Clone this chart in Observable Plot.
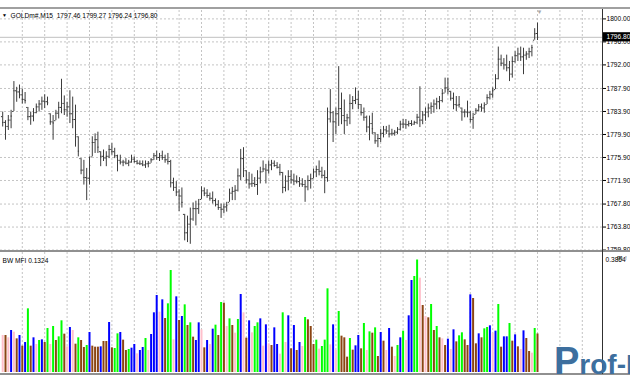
<!DOCTYPE html>
<html><head><meta charset="utf-8">
<script src="https://cdn.jsdelivr.net/npm/d3@7"></script>
<script src="https://cdn.jsdelivr.net/npm/@observablehq/plot@0.6"></script>
<style>
html,body{margin:0;padding:0;background:#fff;}
#wrap{position:relative;width:630px;height:380px;overflow:hidden;font-family:"Liberation Sans",Arial,sans-serif;background:#fff;}
#top{position:absolute;left:0;top:10px;width:630px;height:240px;overflow:hidden;}
#bot{position:absolute;left:0;top:252px;width:630px;height:121px;overflow:hidden;}
.hl{position:absolute;left:0;width:630px;}
#axisline{position:absolute;left:602px;top:9px;width:1px;height:365px;background:#303030;}
#logo{position:absolute;left:554px;top:342px;white-space:nowrap;color:#3d6f9e;font-family:"Liberation Sans",Arial,sans-serif;font-weight:bold;line-height:1;}
</style></head><body>
<div id="wrap">
  <div class="hl" style="top:7px;height:2px;background:#a0a0a0"></div>
  <div id="top"></div>
  <div class="hl" style="top:250px;height:2px;background:#909090"></div>
  <div id="bot"></div>
  <div class="hl" style="top:373px;height:2px;background:#909090"></div>
  <div id="axisline"></div>
  <div id="logo"><span style="font-size:38px">P</span><span style="font-size:28px">rof-FX</span></div>
</div>
<script>
// ---- data ----
const symbol = "GOLDm#";
const timeframe = "M15";
const indicatorName = "BW MFI";
const priceTicks = [1800.00, 1796.00, 1792.00, 1787.90, 1783.90, 1779.90, 1775.90, 1771.90, 1767.80, 1763.80, 1759.80];
const mfiMax = 0.3864;

const high = [1783.8,1782.3,1783.2,1784.1,1789.1,1788.1,1788.5,1787.8,1787.2,1784.6,
1783.8,1784.4,1785.2,1785.8,1786.4,1786.8,1786.4,1783.5,1783.2,1784.1,
1785.5,1789.5,1786.6,1785.5,1787.5,1786.4,1785.0,1779.5,1775.7,1775.4,
1774.0,1776.0,1779.5,1780.0,1780.3,1776.9,1777.2,1776.9,1778.0,1778.3,
1777.5,1776.3,1776.3,1775.4,1775.7,1775.4,1776.3,1776.0,1775.4,1775.3,
1775.3,1775.3,1775.2,1775.7,1776.6,1777.0,1776.6,1777.0,1776.3,1776.6,
1775.4,1772.3,1771.7,1770.3,1770.6,1766.0,1765.7,1767.1,1768.0,1768.3,
1768.6,1770.8,1770.6,1770.3,1769.7,1769.9,1768.7,1768.4,1767.8,1767.8,
1768.1,1770.4,1770.7,1771.0,1773.9,1777.3,1777.6,1773.6,1773.3,1773.0,
1772.4,1773.6,1774.2,1775.3,1774.7,1775.3,1775.4,1775.3,1775.0,1774.7,
1773.3,1772.7,1773.6,1773.6,1773.0,1772.7,1772.4,1772.2,1771.9,1772.7,
1773.0,1773.9,1774.4,1775.3,1774.2,1773.6,1784.5,1787.7,1783.9,1784.5,
1791.7,1787.1,1785.9,1783.4,1786.8,1786.5,1788.0,1787.4,1785.1,1784.5,
1783.1,1783.1,1783.6,1780.2,1779.9,1780.8,1781.3,1781.3,1781.5,1780.8,
1780.6,1781.1,1782.2,1782.5,1782.5,1782.2,1782.3,1782.2,1783.4,1788.2,
1783.9,1784.5,1785.2,1785.4,1785.9,1786.2,1786.5,1787.7,1789.7,1789.7,
1787.4,1787.1,1786.5,1786.5,1784.5,1784.2,1785.7,1783.9,1783.6,1784.4,
1785.1,1785.2,1785.4,1786.8,1787.4,1788.0,1790.3,1795.1,1793.7,1793.1,
1793.7,1792.6,1793.4,1794.3,1794.9,1795.1,1794.9,1794.3,1794.9,1795.4,
1798.3,1799.27];

const low = [1781.2,1778.9,1780.6,1780.9,1783.9,1785.5,1786.1,1785.2,1785.2,1782.3,
1781.5,1782.1,1783.5,1783.8,1784.1,1784.4,1784.9,1781.5,1778.9,1782.3,
1782.6,1783.5,1783.2,1782.9,1781.8,1780.9,1777.7,1776.0,1772.9,1771.1,
1768.4,1771.1,1776.0,1776.6,1776.6,1774.3,1775.2,1774.3,1775.7,1776.3,
1775.7,1773.4,1774.6,1774.3,1774.6,1774.3,1774.9,1774.9,1774.6,1774.5,
1774.3,1774.0,1774.1,1774.9,1775.4,1775.4,1775.2,1775.4,1774.9,1774.6,
1770.6,1770.0,1769.1,1766.5,1767.1,1761.4,1761.1,1760.8,1764.8,1764.0,
1766.0,1768.6,1769.1,1768.8,1768.3,1767.8,1767.3,1766.7,1765.3,1766.1,
1766.4,1768.1,1768.4,1768.4,1769.9,1771.9,1772.4,1771.3,1770.4,1770.7,
1770.7,1769.3,1771.3,1773.3,1771.3,1773.0,1773.6,1774.2,1773.9,1772.7,
1769.6,1769.9,1770.1,1771.3,1771.0,1771.3,1770.7,1770.7,1768.1,1770.1,
1770.4,1772.2,1772.4,1772.7,1772.2,1769.6,1771.6,1781.9,1778.5,1779.9,
1781.3,1781.6,1779.9,1781.3,1781.6,1784.2,1785.1,1784.2,1783.1,1782.2,
1780.2,1778.8,1779.9,1778.2,1777.6,1778.5,1779.3,1779.9,1779.3,1779.6,
1779.6,1779.9,1780.5,1780.9,1780.8,1781.2,1781.3,1781.5,1781.6,1781.1,
1781.6,1782.2,1782.8,1783.4,1783.6,1784.2,1784.2,1785.4,1787.1,1786.8,
1785.7,1784.2,1783.9,1784.5,1782.2,1782.8,1782.8,1781.9,1780.8,1783.4,
1783.8,1783.8,1783.6,1785.1,1785.9,1786.2,1787.7,1789.4,1791.7,1791.1,
1790.8,1789.1,1789.7,1792.3,1792.6,1792.6,1790.3,1792.8,1793.1,1793.4,
1796.3,1796.24];

const open = [1783.0,1782.0,1781.3,1782.4,1783.9,1787.5,1787.3,1786.8,1786.0,1784.6,
1783.0,1783.1,1783.7,1784.7,1785.2,1785.7,1785.6,1783.5,1782.1,1782.3,
1783.6,1784.6,1785.3,1784.2,1784.7,1783.5,1782.5,1779.5,1775.7,1773.7,
1772.4,1772.3,1776.0,1778.5,1779.0,1776.9,1776.1,1775.8,1776.1,1777.3,
1776.9,1776.2,1775.4,1775.1,1775.1,1774.9,1775.1,1775.6,1775.2,1774.9,
1774.8,1774.6,1774.8,1774.9,1775.5,1776.2,1775.9,1776.2,1775.9,1775.5,
1775.2,1771.5,1770.7,1769.9,1769.2,1766.0,1762.8,1764.3,1765.2,1767.0,
1767.0,1768.6,1770.1,1769.7,1769.3,1768.8,1768.4,1767.7,1767.2,1766.9,
1767.3,1768.1,1769.7,1770.0,1770.2,1772.7,1775.7,1773.6,1772.0,1771.3,
1771.4,1771.2,1772.3,1773.4,1773.9,1773.7,1774.6,1774.9,1774.5,1774.2,
1773.3,1770.7,1771.8,1772.6,1772.0,1771.8,1771.7,1771.3,1771.2,1770.8,
1771.9,1772.2,1773.4,1773.8,1773.5,1772.8,1772.4,1782.6,1783.7,1782.1,
1783.5,1784.4,1783.2,1782.3,1782.8,1785.3,1785.8,1786.0,1785.1,1783.7,
1782.9,1781.2,1781.8,1780.2,1778.8,1779.2,1780.1,1780.7,1780.5,1780.0,
1780.1,1780.3,1780.8,1781.7,1781.7,1781.6,1781.8,1781.7,1782.0,1782.9,
1782.4,1783.3,1783.8,1784.5,1784.8,1785.2,1785.6,1785.8,1787.1,1788.0,
1787.4,1786.2,1785.1,1785.0,1784.5,1783.8,1783.8,1783.7,1782.5,1783.4,
1784.1,1784.7,1784.5,1785.1,1786.3,1786.9,1787.7,1789.6,1793.0,1792.3,
1792.0,1791.5,1790.4,1792.6,1793.6,1793.9,1793.4,1793.7,1793.9,1794.3,
1796.3,1797.46];

const close = [1782.0,1781.3,1782.4,1783.1,1787.5,1787.3,1786.8,1786.0,1785.8,1783.0,
1783.1,1783.7,1784.7,1785.2,1785.7,1785.6,1785.4,1782.1,1781.9,1783.6,
1784.6,1785.3,1784.2,1784.7,1783.5,1782.5,1779.9,1777.0,1773.7,1772.4,
1772.3,1774.5,1778.5,1779.0,1777.7,1776.1,1775.8,1776.1,1777.3,1776.9,
1776.2,1775.4,1775.1,1775.1,1774.9,1775.1,1775.6,1775.2,1774.9,1774.8,
1774.6,1774.8,1774.9,1775.5,1776.2,1775.9,1776.2,1775.9,1775.5,1775.2,
1771.5,1770.7,1769.9,1769.2,1768.1,1762.8,1764.3,1765.2,1767.0,1767.0,
1767.8,1770.1,1769.7,1769.3,1768.8,1768.4,1767.7,1767.2,1766.9,1767.3,
1767.6,1769.7,1770.0,1770.2,1772.7,1775.7,1774.0,1772.0,1771.3,1771.4,
1771.2,1772.3,1773.4,1773.9,1773.7,1774.6,1774.9,1774.5,1774.2,1773.3,
1770.7,1771.8,1772.6,1772.0,1771.8,1771.7,1771.3,1771.2,1770.8,1771.9,
1772.2,1773.4,1773.8,1773.5,1772.8,1772.4,1782.6,1783.7,1782.1,1783.5,
1784.4,1783.2,1782.3,1782.8,1785.3,1785.8,1786.0,1785.1,1783.7,1782.9,
1781.2,1781.8,1780.9,1778.8,1779.2,1780.1,1780.7,1780.5,1780.0,1780.1,
1780.3,1780.8,1781.7,1781.7,1781.6,1781.8,1781.7,1782.0,1782.9,1782.4,
1783.3,1783.8,1784.5,1784.8,1785.2,1785.6,1785.8,1787.0,1788.0,1787.7,
1786.2,1785.1,1785.0,1785.1,1783.8,1783.8,1783.7,1782.5,1782.8,1784.1,
1784.7,1784.5,1784.9,1786.3,1786.9,1787.5,1789.6,1793.0,1792.3,1792.0,
1791.5,1790.4,1792.6,1793.6,1793.9,1793.4,1793.7,1793.9,1794.3,1795.0,
1797.4,1796.80];

const mfi = [0.1271,0.1271,0.1191,0.1443,0.1385,0.1156,0.1271,0.0905,0.1031,0.2187,
0.0905,0.1191,0.0962,0.1099,0.1122,0.1031,0.1511,0.0962,0.1580,0.1099,
0.1225,0.1775,0.1317,0.0882,0.1546,0.1443,0.0973,0.1191,0.1099,0.0859,
0.0927,0.1374,0.0905,0.0870,0.0870,0.0882,0.1065,0.1065,0.1718,0.0847,
0.0824,0.1328,0.1374,0.1111,0.0756,0.0790,0.0836,0.0962,0.0641,0.0756,
0.0859,0.1168,0.0756,0.1305,0.2050,0.2645,0.2072,0.2496,0.1855,0.2359,
0.3504,0.1122,0.2599,0.1786,0.1924,0.2324,0.1614,0.1706,0.1214,0.1099,
0.1706,0.1466,0.0847,0.1099,0.0962,0.1489,0.1626,0.1271,0.2405,0.2382,
0.1580,0.1843,0.1614,0.1351,0.1821,0.2679,0.2050,0.1179,0.1775,0.1363,
0.1580,0.1706,0.1843,0.0905,0.1637,0.0985,0.0927,0.1534,0.0962,0.0630,
0.2050,0.1031,0.1947,0.0813,0.1614,0.0756,0.1031,0.0893,0.1889,0.1809,
0.1580,0.0962,0.1111,0.0802,0.0893,0.1111,0.2874,0.0950,0.1637,0.0756,
0.2095,0.1248,0.1191,0.0527,0.1168,0.0767,0.0916,0.1271,0.0813,0.1683,
0.0756,0.1397,0.1351,0.1534,0.0550,0.1374,0.1076,0.0756,0.1511,0.0870,
0.0550,0.0927,0.1191,0.1420,0.1099,0.1947,0.3160,0.3298,0.3864,0.3240,
0.2301,0.1924,0.1878,0.2336,0.1443,0.1580,0.1191,0.1156,0.0927,0.1145,
0.0790,0.1466,0.1053,0.1260,0.1363,0.1122,0.0927,0.2668,0.2542,0.0985,
0.1328,0.1191,0.1500,0.1546,0.1603,0.1351,0.1420,0.2336,0.0870,0.1225,
0.1225,0.1683,0.1076,0.1294,0.0882,0.0790,0.1431,0.1168,0.0721,0.0664,
0.1511,0.1324];

// g = green (MFI up, volume up), r = brown/fade, b = blue/fake, p = pink/squat
const mfiColor = ["p","r","p","b","p","r","b","r","b","g",
"r","b","p","g","b","r","g","p","g","r",
"g","g","r","p","b","p","r","g","r","r",
"g","b","r","r","r","b","r","r","b","r",
"g","g","b","r","r","g","b","b","p","b",
"b","g","p","b","b","b","p","b","r","g",
"g","p","b","r","b","g","r","g","r","b",
"b","p","r","b","p","b","g","r","g","r",
"p","g","r","p","g","b","p","r","b","p",
"g","g","b","p","b","p","r","b","b","p",
"g","p","b","r","b","r","b","p","g","r",
"r","r","g","p","g","g","g","p","b","p",
"g","r","r","r","g","r","b","b","r","g",
"p","g","r","g","r","b","r","p","b","r",
"p","g","b","g","p","b","b","g","g","p",
"r","p","r","g","r","g","r","p","r","b",
"p","b","r","g","g","r","r","b","r","r",
"b","r","g","g","b","p","b","g","r","b",
"b","g","r","b","r","p","b","r","r","p",
"g","r"];

const colorOf = {g: "#00ff00", r: "#8b4513", b: "#0000ff", p: "#ffc0cb"};

// ---- build ----
const N = high.length;
const bars = d3.range(N).map(i => ({i, o: open[i], h: high[i], l: low[i], c: close[i], m: mfi[i], col: colorOf[mfiColor[i]]}));
const X0 = -0.7857, X1 = 214.214;           // bar-index domain of the plot area
const gridI = d3.range(7, X1, 8);            // vertical grid every 8 bars
const last = N - 1;
const font = "'Liberation Sans', Arial, sans-serif";
const fs = 6.6;
const header = `${symbol},${timeframe}  ${open[last].toFixed(2)} ${high[last].toFixed(2)} ${low[last].toFixed(2)} ${close[last].toFixed(2)}`;
const gridStyle = {stroke: "#c4c4c4", strokeDasharray: "2,2"};
const barColor = "#3c3c3c";

const topChart = Plot.plot({
  width: 630, height: 240,
  marginLeft: 0, marginRight: 28, marginTop: 0, marginBottom: 0,
  x: {domain: [X0, X1], axis: null},
  y: {domain: [1759.722, 1801.461]},
  style: {fontFamily: font, fontSize: fs + "px", color: "#000", background: "transparent"},
  marks: [
    Plot.ruleX(gridI, gridStyle),
    Plot.ruleY(priceTicks, gridStyle),
    Plot.ruleY([close[last]], {stroke: "#c0c0c0"}),
    Plot.ruleX(bars, {x: "i", y1: "l", y2: "h", stroke: barColor}),
    Plot.ruleY(bars, {y: "o", x1: d => d.i - 0.45, x2: "i", stroke: barColor}),
    Plot.ruleY(bars, {y: "c", x1: "i", x2: d => d.i + 0.45, stroke: barColor}),
    Plot.axisY(priceTicks, {anchor: "right", tickSize: 3, tickPadding: 1, tickFormat: d => d.toFixed(2), fontSize: fs, fill: "#000"}),
    Plot.rect([close[last]], {x1: () => X1 + 0.2, x2: () => X1 + 11, y1: d => d - 0.8, y2: d => d + 0.8, fill: "#000"}),
    Plot.text([close[last]], {x: () => X1, y: d => d, text: d => d.toFixed(2), dx: 4, textAnchor: "start", fill: "#fff", fontSize: fs}),
    Plot.text(["\u25BC"], {frameAnchor: "top-left", dx: 4, dy: 5, fontSize: 5, textAnchor: "middle", lineAnchor: "middle", fill: "#000"}),
    Plot.text([header], {frameAnchor: "top-left", dx: 10, dy: 5, textAnchor: "start", lineAnchor: "middle", fontSize: fs, fill: "#000"}),
    Plot.text(["\u25BC"], {frameAnchor: "top-left", dx: 539, dy: 2, fontSize: 6, textAnchor: "middle", lineAnchor: "middle", fill: "#a8a8a8"})
  ]
});
document.getElementById("top").append(topChart);

const botChart = Plot.plot({
  width: 630, height: 121,
  marginLeft: 0, marginRight: 28, marginTop: 0, marginBottom: 1,
  x: {domain: [X0, X1], axis: null},
  y: {domain: [0, mfiMax * 120 / 112.5]},
  color: {type: "identity"},
  style: {fontFamily: font, fontSize: fs + "px", color: "#000", background: "transparent"},
  marks: [
    Plot.ruleX(gridI, gridStyle),
    Plot.ruleX(bars, {x: "i", y: "m", stroke: "col", strokeWidth: 2}),
    Plot.axisY([mfiMax], {anchor: "right", tickSize: 0, tickPadding: 3, tickFormat: d => d.toFixed(4), fontSize: fs, fill: "#000"}),
    Plot.text([`${indicatorName} ${mfi[last].toFixed(4)}`], {frameAnchor: "top-left", dx: 2, dy: 8, textAnchor: "start", lineAnchor: "middle", fontSize: fs, fill: "#000"})
  ]
});
document.getElementById("bot").append(botChart);
</script>
</body></html>
